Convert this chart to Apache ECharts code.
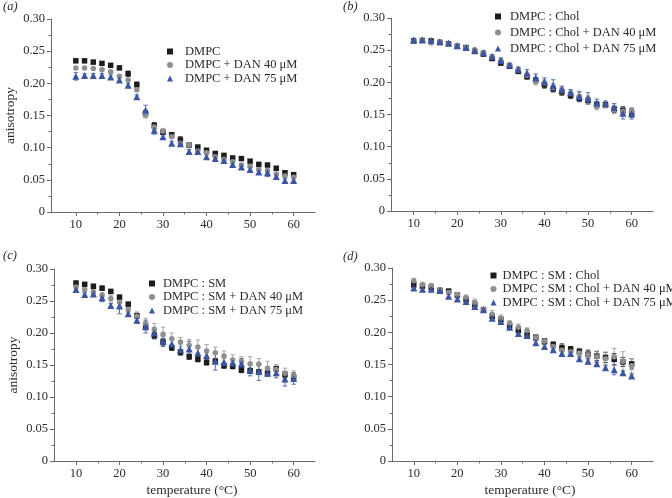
<!DOCTYPE html>
<html>
<head>
<meta charset="utf-8">
<script src="https://cdn.jsdelivr.net/npm/echarts@6/dist/echarts.min.js"></script>
<style>html,body{margin:0;padding:0;background:#fff;}#c{width:672px;height:498px;}</style>
</head>
<body>
<div id="c"></div>
<script>
const temps = [10,12,14,16,18,20,22,24,26,28,30,32,34,36,38,40,42,44,46,48,50,52,54,56,58,60];
const xTicks = [10,20,30,40,50,60];
const xMinorTicks = [15,25,35,45,55];

// Panel (a)
const aNames = ['DMPC','DMPC + DAN 40 μM','DMPC + DAN 75 μM'];
const aDMPC  = [0.235,0.235,0.233,0.231,0.228,0.224,0.215,0.198,0.153,0.134,0.124,0.120,0.112,0.104,0.101,0.096,0.091,0.088,0.084,0.083,0.079,0.074,0.073,0.068,0.061,0.058];
const aDAN40 = [0.224,0.224,0.223,0.221,0.218,0.211,0.205,0.190,0.151,0.132,0.126,0.117,0.107,0.104,0.095,0.092,0.086,0.082,0.078,0.073,0.071,0.066,0.064,0.059,0.056,0.054];
const aDAN75 = [0.211,0.212,0.212,0.212,0.210,0.205,0.197,0.179,0.158,0.127,0.117,0.107,0.106,0.094,0.094,0.086,0.083,0.080,0.074,0.070,0.066,0.062,0.061,0.055,0.049,0.049];
const aErrDMPC  = [0.002,0.002,0.002,0.002,0.002,0.002,0.004,0.004,0.005,0.005,0.003,0.003,0.005,0.002,0.002,0.002,0.002,0.002,0.002,0.002,0.002,0.002,0.002,0.002,0.002,0.002];
const aErrDAN40 = [0.002,0.002,0.002,0.002,0.002,0.002,0.002,0.003,0.005,0.004,0.004,0.002,0.002,0.002,0.002,0.002,0.002,0.002,0.002,0.002,0.002,0.002,0.002,0.002,0.002,0.002];
const aErrDAN75 = [0.006,0.003,0.003,0.003,0.003,0.003,0.003,0.003,0.008,0.006,0.003,0.003,0.003,0.003,0.003,0.003,0.003,0.003,0.003,0.003,0.003,0.003,0.006,0.003,0.003,0.003];

// Panel (b)
const bNames = ['DMPC : Chol','DMPC : Chol + DAN 40 μM','DMPC : Chol + DAN 75 μM'];
const bChol  = [0.264,0.265,0.264,0.262,0.260,0.256,0.254,0.248,0.244,0.237,0.230,0.225,0.217,0.209,0.203,0.196,0.190,0.185,0.180,0.175,0.172,0.165,0.165,0.158,0.156,0.152];
const bDAN40 = [0.264,0.265,0.262,0.263,0.260,0.256,0.254,0.250,0.246,0.239,0.233,0.226,0.219,0.211,0.201,0.199,0.192,0.187,0.183,0.178,0.173,0.163,0.164,0.157,0.155,0.155];
const bDAN75 = [0.266,0.266,0.265,0.263,0.261,0.257,0.254,0.250,0.246,0.240,0.234,0.227,0.220,0.214,0.207,0.201,0.195,0.189,0.184,0.178,0.175,0.168,0.167,0.161,0.152,0.151];
const bErrChol  = [0.002,0.002,0.003,0.002,0.002,0.002,0.002,0.003,0.003,0.003,0.003,0.003,0.003,0.004,0.004,0.005,0.005,0.005,0.005,0.005,0.005,0.005,0.004,0.005,0.006,0.006];
const bErrDAN40 = [0.002,0.002,0.004,0.002,0.002,0.002,0.002,0.003,0.003,0.003,0.004,0.003,0.004,0.005,0.005,0.005,0.006,0.005,0.005,0.006,0.006,0.006,0.004,0.006,0.006,0.006];
const bErrDAN75 = [0.002,0.002,0.003,0.002,0.002,0.002,0.002,0.003,0.003,0.003,0.004,0.003,0.004,0.006,0.006,0.006,0.009,0.005,0.005,0.008,0.009,0.006,0.004,0.006,0.009,0.008];

// Panel (c)
const cNames = ['DMPC : SM','DMPC : SM + DAN 40 μM','DMPC : SM + DAN 75 μM'];
const cSM    = [0.278,0.276,0.273,0.270,0.265,0.256,0.245,0.227,0.211,0.196,0.186,0.177,0.170,0.163,0.159,0.154,0.156,0.149,0.148,0.142,0.141,0.139,0.137,0.144,0.135,0.131];
const cDAN40 = [0.272,0.268,0.264,0.259,0.254,0.248,0.237,0.226,0.214,0.205,0.198,0.191,0.186,0.181,0.178,0.172,0.169,0.164,0.158,0.156,0.152,0.151,0.145,0.143,0.137,0.133];
const cDAN75 = [0.268,0.260,0.261,0.255,0.243,0.242,0.230,0.220,0.210,0.200,0.187,0.183,0.174,0.175,0.169,0.165,0.156,0.154,0.153,0.152,0.142,0.140,0.137,0.138,0.128,0.129];
const cErrSM    = [0.003,0.003,0.003,0.003,0.003,0.003,0.003,0.004,0.006,0.005,0.005,0.004,0.004,0.004,0.004,0.004,0.004,0.004,0.004,0.004,0.004,0.004,0.004,0.004,0.005,0.005];
const cErrDAN40 = [0.004,0.004,0.004,0.004,0.005,0.006,0.005,0.007,0.009,0.010,0.011,0.009,0.007,0.009,0.011,0.010,0.009,0.008,0.008,0.007,0.011,0.009,0.011,0.008,0.008,0.008];
const cErrDAN75 = [0.003,0.003,0.003,0.006,0.003,0.012,0.004,0.005,0.010,0.009,0.008,0.008,0.009,0.012,0.008,0.009,0.014,0.007,0.007,0.008,0.009,0.014,0.004,0.008,0.011,0.009];

// Panel (d)
const dNames = ['DMPC : SM : Chol','DMPC : SM : Chol + DAN 40 μM','DMPC : SM : Chol + DAN 75 μM'];
const dSMChol = [0.274,0.272,0.270,0.265,0.264,0.258,0.251,0.243,0.235,0.225,0.220,0.210,0.203,0.196,0.192,0.186,0.181,0.176,0.174,0.170,0.166,0.163,0.161,0.158,0.154,0.151];
const dDAN40  = [0.280,0.274,0.272,0.266,0.262,0.259,0.254,0.246,0.236,0.228,0.222,0.214,0.208,0.203,0.192,0.186,0.178,0.172,0.170,0.168,0.165,0.162,0.159,0.162,0.155,0.148];
const dDAN75  = [0.269,0.267,0.267,0.265,0.256,0.252,0.248,0.240,0.235,0.222,0.217,0.208,0.198,0.195,0.184,0.178,0.173,0.167,0.167,0.159,0.155,0.151,0.145,0.142,0.137,0.132];
const dErrSMChol = [0.005,0.003,0.005,0.003,0.003,0.003,0.004,0.006,0.003,0.004,0.004,0.004,0.004,0.004,0.004,0.004,0.004,0.006,0.004,0.005,0.006,0.007,0.008,0.009,0.007,0.008];
const dErrDAN40  = [0.004,0.004,0.004,0.003,0.003,0.003,0.004,0.006,0.003,0.006,0.005,0.004,0.005,0.004,0.004,0.004,0.005,0.008,0.005,0.006,0.008,0.009,0.009,0.013,0.015,0.011];
const dErrDAN75  = [0.003,0.003,0.003,0.003,0.003,0.003,0.003,0.003,0.003,0.003,0.003,0.003,0.003,0.003,0.003,0.003,0.003,0.003,0.004,0.003,0.004,0.003,0.003,0.008,0.003,0.003];

const colors = ['#1c1c1c','#8f8f8f','#3b55a3'];
const errColors = ['#2a2a2a','#a8a8a8','#5b6fae'];
const symbols = ['rect','circle','triangle'];
const symSizes = [5.5,5.5,7];
const FONT = '"Liberation Serif","DejaVu Serif",serif';
const TXT = '#2b2b2b';

const panels = [
  {names:aNames, vals:[aDMPC,aDAN40,aDAN75], errs:[aErrDMPC,aErrDAN40,aErrDAN75],
   grid:{left:51,top:19,width:264,height:193}, min:4.3, max:64.9, yName:'anisotropy', xName:'',
   legend:{left:167,top:45,gap:0.5,pad:7}, label:'(a)', lx:3, ly:0},
  {names:bNames, vals:[bChol,bDAN40,bDAN75], errs:[bErrChol,bErrDAN40,bErrDAN75],
   grid:{left:391,top:18,width:262,height:193}, min:4.8, max:64.9, yName:'', xName:'',
   legend:{left:495,top:10,gap:3,pad:4}, label:'(b)', lx:343, ly:0},
  {names:cNames, vals:[cSM,cDAN40,cDAN75], errs:[cErrSM,cErrDAN40,cErrDAN75],
   grid:{left:54,top:269,width:261,height:192}, min:4.95, max:64.9, yName:'anisotropy', xName:'temperature (°C)',
   legend:{left:149,top:277,gap:0.5,pad:3}, label:'(c)', lx:3, ly:249},
  {names:dNames, vals:[dSMChol,dDAN40,dDAN75], errs:[dErrSMChol,dErrDAN40,dErrDAN75],
   grid:{left:392,top:268,width:261,height:193}, min:5.0, max:64.9, yName:'', xName:'temperature (°C)',
   legend:{left:490.5,top:269,gap:0.5,pad:1}, label:'(d)', lx:343, ly:250}
];

function makeErr(color){
  return function(params, api){
    const x = api.value(0), y = api.value(1), e = api.value(2);
    const t = api.coord([x, y + e]);
    const b = api.coord([x, y - e]);
    const hw = 2.2;
    const st = {stroke: color, lineWidth: 1};
    return {type:'group', children:[
      {type:'line', shape:{x1:t[0],y1:t[1],x2:b[0],y2:b[1]}, style:st},
      {type:'line', shape:{x1:t[0]-hw,y1:t[1],x2:t[0]+hw,y2:t[1]}, style:st},
      {type:'line', shape:{x1:b[0]-hw,y1:b[1],x2:b[0]+hw,y2:b[1]}, style:st}
    ]};
  };
}

const option = {
  backgroundColor:'#fff',
  animation:false,
  textStyle:{fontFamily:FONT},
  title:[], grid:[], xAxis:[], yAxis:[], legend:[], series:[]
};

panels.forEach((p, i) => {
  option.title.push({text:p.label, left:p.lx, top:p.ly, padding:0,
    textStyle:{fontFamily:FONT, fontStyle:'italic', fontWeight:'normal', fontSize:12.5, color:TXT}});
  option.grid.push(Object.assign({containLabel:false}, p.grid));
  const axisLine = {show:true, lineStyle:{color:'#6a6a6a', width:1}};
  option.xAxis.push({
    type:'value', gridIndex:i, min:p.min, max:p.max, position:'bottom',
    axisLine:axisLine,
    axisTick:{show:true, inside:false, length:4, customValues:xTicks, lineStyle:{color:'#6a6a6a'}},
    axisLabel:{show:true, customValues:xTicks, margin:6, color:TXT, fontFamily:FONT, fontSize:12.5},
    splitLine:{show:false},
    name:p.xName, nameLocation:'middle', nameGap:22,
    nameTextStyle:{fontFamily:FONT, fontSize:13.5, color:TXT, padding:[0,0,0,15]}
  });
  option.xAxis.push({
    type:'value', gridIndex:i, min:p.min, max:p.max, position:'bottom', offset:0,
    axisLine:{show:false},
    axisTick:{show:true, inside:false, length:2.5, customValues:xMinorTicks, lineStyle:{color:'#6a6a6a'}},
    axisLabel:{show:false},
    splitLine:{show:false}
  });
  option.yAxis.push({
    type:'value', gridIndex:i, min:0, max:0.30, interval:0.05,
    axisLine:axisLine,
    axisTick:{show:true, inside:false, length:4, lineStyle:{color:'#6a6a6a'}},
    minorTick:{show:true, splitNumber:2, length:2.5, lineStyle:{color:'#6a6a6a'}},
    axisLabel:{margin:6, color:TXT, fontFamily:FONT, fontSize:12.5,
      formatter: v => (Math.abs(v) < 1e-9 ? '0' : v.toFixed(2))},
    splitLine:{show:false},
    name:p.yName, nameLocation:'middle', nameGap:34, nameRotate:90,
    nameTextStyle:{fontFamily:FONT, fontSize:13.5, color:TXT}
  });
  option.legend.push({
    data:p.names.map((n,k)=>({name:n, icon:symbols[k]})),
    orient:'vertical', left:p.legend.left, top:p.legend.top,
    itemWidth:6, itemHeight:6, itemGap:p.legend.gap,
    padding:0, selectedMode:false,
    textStyle:{fontFamily:FONT, fontSize:12.5, color:TXT, lineHeight:13, padding:[0,0,0,p.legend.pad]}
  });
  for (let k = 0; k < 3; k++) {
    option.series.push({
      type:'custom', name:p.names[k]+' err', xAxisIndex:2*i, yAxisIndex:i,
      renderItem:makeErr(errColors[k]),
      data:temps.map((t,j)=>[t, p.vals[k][j], p.errs[k][j]]),
      encode:{x:0, y:1}, z:1+k, silent:true
    });
  }
  for (let k = 0; k < 3; k++) {
    option.series.push({
      type:'scatter', name:p.names[k], xAxisIndex:2*i, yAxisIndex:i,
      symbol:symbols[k], symbolSize:symSizes[k],
      itemStyle:{color:colors[k], opacity:1},
      data:temps.map((t,j)=>[t, p.vals[k][j]]),
      z:5+k
    });
  }
});

const chart = echarts.init(document.getElementById('c'), null, {renderer:'canvas'});
chart.setOption(option);
</script>
</body>
</html>
